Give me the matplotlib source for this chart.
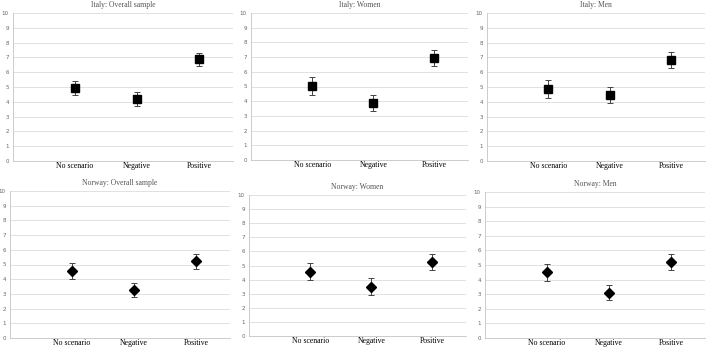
import matplotlib
matplotlib.use("Agg")
import matplotlib.pyplot as plt

categories = ["No scenario", "Negative", "Positive"]

titles = ["Italy: Overall sample", "Italy: Women", "Italy: Men",
          "Norway: Overall sample", "Norway: Women", "Norway: Men"]

# mean score and half-width of the error bar, per panel
italy_all = [4.93, 4.19, 6.87]
italy_all_err = [0.48, 0.46, 0.45]
italy_women = [5.03, 3.87, 6.92]
italy_women_err = [0.60, 0.55, 0.55]
italy_men = [4.86, 4.44, 6.80]
italy_men_err = [0.62, 0.54, 0.54]
norway_all = [4.55, 3.28, 5.22]
norway_all_err = [0.57, 0.48, 0.50]
norway_women = [4.57, 3.50, 5.24]
norway_women_err = [0.62, 0.60, 0.57]
norway_men = [4.50, 3.10, 5.22]
norway_men_err = [0.58, 0.53, 0.55]

means = [italy_all, italy_women, italy_men, norway_all, norway_women, norway_men]
errs = [italy_all_err, italy_women_err, italy_men_err,
        norway_all_err, norway_women_err, norway_men_err]

W, H = 708, 347
fig = plt.figure(figsize=(W / 100, H / 100), dpi=100)

# panel boxes in pixels: left, top(y=10), right, bottom(y=0)
boxes = [(13, 13, 233, 161), (251, 13, 468, 160), (487, 13, 705, 161),
         (10, 191, 230, 338), (249, 195, 466, 336), (485, 192, 705, 338)]

x = [1, 2, 3]
for i in range(6):
    l, t, r, b = boxes[i]
    ax = fig.add_axes([l / W, 1 - b / H, (r - l) / W, (b - t) / H])
    marker = "s" if i < 3 else "D"
    ms = 6 if i < 3 else 5.5
    ax.errorbar(x, means[i], yerr=errs[i], fmt=marker, color="black", ms=ms,
                ecolor="#444444", elinewidth=0.7, capsize=2, capthick=0.7, zorder=3)
    ax.set_xlim(0, 3.55)
    ax.set_ylim(0, 10)
    ax.set_yticks(range(11))
    ax.set_xticks(x)
    ax.set_xticklabels(categories, family="Liberation Serif", fontsize=5.6)
    ax.tick_params(axis="x", length=0, pad=0.5)
    ax.tick_params(axis="y", length=0, labelsize=4, labelcolor="#666666", pad=3)
    ax.grid(axis="y", color="#dcdcdc", linewidth=0.6)
    ax.set_axisbelow(True)
    for s in ["top", "right"]:
        ax.spines[s].set_visible(False)
    for s in ["left", "bottom"]:
        ax.spines[s].set_color("#c4c4c4")
        ax.spines[s].set_linewidth(0.6)
    ax.set_title(titles[i], family="Liberation Serif", fontsize=5.5,
                 color="#555555", pad=4)

fig.savefig("out.png", dpi=100)
